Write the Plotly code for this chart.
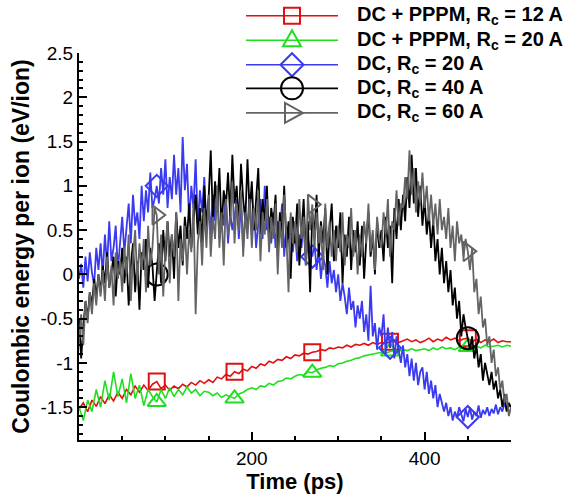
import numpy as np
import plotly.graph_objects as go

# ---------------- data ----------------
t_fine = np.arange(0, 500.01, 2.5)     # 201 samples for the noisy DC runs
t_coarse = np.arange(0, 500.01, 5.0)   # 101 samples for the DC+PPPM runs

pppm_rc12 = [
    -1.52, -1.45, -1.55, -1.42, -1.49, -1.38, -1.46, -1.36, -1.43, -1.33,
    -1.4, -1.3, -1.36, -1.26, -1.33, -1.25, -1.31, -1.24, -1.21, -1.29,
    -1.25, -1.31, -1.26, -1.29, -1.24, -1.27, -1.22, -1.25, -1.2, -1.23,
    -1.19, -1.22, -1.16, -1.18, -1.13, -1.15, -1.1, -1.12, -1.07, -1.09,
    -1.04, -1.06, -1.01, -1.03, -0.98, -1.0, -0.96, -0.97, -0.93, -0.95,
    -0.91, -0.92, -0.89, -0.9, -0.88, -0.87, -0.85, -0.86, -0.83, -0.84,
    -0.82, -0.83, -0.8, -0.82, -0.79, -0.8, -0.78, -0.8, -0.77, -0.79,
    -0.77, -0.78, -0.76, -0.74, -0.77, -0.75, -0.73, -0.76, -0.74, -0.77,
    -0.75, -0.72, -0.76, -0.73, -0.75, -0.71, -0.74, -0.72, -0.75, -0.73,
    -0.72, -0.76, -0.73, -0.77, -0.74, -0.76, -0.73, -0.77, -0.75, -0.76,
    -0.76,
]

pppm_rc20 = [
    -1.5, -1.65, -1.42, -1.55, -1.3, -1.5, -1.2, -1.42, -1.1, -1.38,
    -1.18, -1.45, -1.12, -1.4, -1.25, -1.48, -1.3, -1.38, -1.44, -1.3,
    -1.4, -1.28, -1.38, -1.3, -1.36, -1.27, -1.34, -1.3, -1.37, -1.32,
    -1.33, -1.37, -1.34, -1.39, -1.36, -1.38, -1.4, -1.35, -1.33, -1.3,
    -1.28, -1.3, -1.26, -1.27, -1.23, -1.25, -1.21, -1.2, -1.17, -1.18,
    -1.15, -1.13, -1.14, -1.1, -1.11, -1.08, -1.06, -1.05, -1.03, -1.04,
    -1.01, -1.0, -0.98, -0.97, -0.95, -0.94, -0.92, -0.91, -0.9, -0.89,
    -0.88, -0.89, -0.87, -0.86, -0.87, -0.85, -0.86, -0.84, -0.86, -0.85,
    -0.84, -0.86, -0.83, -0.85, -0.82, -0.84, -0.83, -0.85, -0.82, -0.84,
    -0.82, -0.84, -0.81, -0.83, -0.8, -0.82, -0.81, -0.8, -0.82, -0.8,
    -0.81,
]

dc_rc20 = [
    -0.05, 0.12, -0.15, 0.2, -0.08, 0.25, 0.02, -0.12, 0.3, 0.05,
    0.35, 0.0, 0.45, 0.1, 0.6, 0.15, 0.3, 0.55, 0.05, 0.4,
    0.65, 0.25, 0.5, 0.8, 0.35, 0.9, 0.55, 0.7, 0.4, 1.0,
    0.6, 0.95, 0.7, 1.15, 0.75, 0.85, 1.0, 0.8, 1.2, 0.9,
    1.3, 0.75, 1.1, 0.85, 1.35, 0.9, 1.2, 0.7, 1.55, 0.95,
    1.25, 0.6, 1.0, 0.75, 1.3, 0.55, 0.95, 0.7, 1.1, 0.5,
    0.85, 0.45, 0.9, 0.6, 1.0, 0.4, 0.75, 0.55, 0.9, 0.35,
    0.7, 0.5, 0.65, 0.85, 0.4, 0.8, 0.3, 0.7, 0.55, 0.9,
    0.45, 0.75, 0.3, 0.6, 0.85, 0.4, 1.0, 0.5, 0.65, 0.35,
    0.7, 0.3, 0.6, 0.45, 0.8, 0.2, 0.55, 0.4, 0.65, 0.25,
    0.5, 0.15, 0.45, 0.3, 0.6, 0.1, 0.4, 0.25, 0.2, 0.35,
    0.05, 0.3, -0.05, 0.2, 0.1, -0.15, 0.15, -0.1, 0.05, -0.2,
    0.0, -0.3, -0.1, -0.25, -0.45, -0.15, -0.4, -0.3, -0.6, -0.35,
    -0.5, -0.3, -0.65, -0.45, -0.75, -0.13, -0.7, -0.55, -0.85, -0.6,
    -0.7, -0.45, -0.9, -0.6, -0.83, -0.65, -0.95, -0.7, -0.85, -1.0,
    -0.8, -1.05, -0.9, -1.15, -0.95, -1.2, -1.0, -1.25, -1.1, -1.05,
    -1.3, -1.1, -1.35, -1.2, -1.4, -1.25, -1.5, -1.35, -1.45, -1.55,
    -1.45, -1.6, -1.5, -1.65, -1.55, -1.62, -1.5, -1.58, -1.66, -1.52,
    -1.61, -1.5, -1.64, -1.55, -1.6, -1.48, -1.62, -1.53, -1.58, -1.5,
    -1.6, -1.52, -1.57, -1.47, -1.58, -1.5, -1.55, -1.45, -1.53, -1.48,
    -1.5,
]

dc_rc40 = [
    -0.5, -0.95, -0.6, -0.3, -0.5, -0.2, -0.35, -0.05, -0.25, 0.0,
    -0.2, 0.1, -0.1, 0.25, -0.15, 0.05, 0.2, -0.25, 0.15, 0.0,
    0.3, -0.1, 0.2, -0.35, 0.1, 0.35, -0.2, 0.15, -0.4, 0.25,
    0.05, 0.4, -0.15, 0.3, 0.1, -0.3, 0.0, 0.35, -0.1, 0.5,
    0.15, 0.6, 0.2, 0.45, -0.05, 0.7, 0.3, 0.55, 0.1, 0.65,
    0.4, 0.8, 0.3, 0.65, 0.9, 0.45, 0.75, 0.35, 1.0, 0.55,
    0.85, 1.4, 0.6, 1.05, 0.7, 1.2, 0.5, 0.95, 0.75, 1.15,
    0.65, 1.35, 0.8, 1.0, 0.55, 1.25, 0.85, 0.6, 1.3, 0.7,
    1.05, 0.5, 0.9, 1.2, 0.45, 0.85, 0.6, 1.0, 0.35, 0.75,
    0.55, 0.9, 0.2, 0.7, 0.4, 1.0, 0.3, 0.6, -0.05, 0.65,
    0.35, 0.8, 0.1, 0.55, 0.85, 0.25, 0.6, -0.2, 0.7, 0.45,
    0.9, 0.2, 0.6, 0.35, 0.75, 0.0, 0.5, 0.8, 0.15, 0.55,
    0.3, 0.7, -0.1, 0.45, 0.2, 0.65, 0.05, 0.5, 0.25, 0.6,
    0.1, 0.55, -0.05, 0.4, 0.7, 0.2, 0.45, 0.0, 0.6, 0.3,
    0.5, 0.15, 0.65, 0.3, 0.55, -0.1, 0.75, 0.4, 0.85, 0.5,
    0.9, 0.6, 1.1, 0.75, 1.35, 0.8, 1.2, 0.65, 1.0, 0.55,
    0.85, 0.45, 0.7, 0.3, 0.6, 0.15, 0.4, 0.0, 0.3, -0.1,
    0.15, -0.2, 0.05, -0.35, -0.15, -0.5, -0.3, -0.7, -0.45, -0.6,
    -0.72, -0.85, -0.7, -0.95, -0.8, -1.05, -0.9, -1.2, -1.0, -1.15,
    -1.25, -1.1, -1.3, -1.2, -1.4, -1.3, -1.5, -1.35, -1.55, -1.45,
    -1.5,
]

dc_rc60 = [
    -0.75, -0.45, -0.8, -0.3, -0.55, -0.2, -0.45, -0.1, -0.35, 0.0,
    -0.25, 0.05, -0.3, 0.2, -0.15, 0.1, -0.35, 0.25, -0.05, 0.15,
    -0.2, 0.3, 0.0, 0.45, -0.3, 0.2, 0.5, -0.1, 0.35, 0.05,
    0.4, -0.2, 0.55, 0.1, 0.3, 0.75, 0.67, 0.0, 0.45, -0.25,
    0.3, 0.6, -0.1, 0.45, 0.2, 0.7, -0.3, 0.4, 0.15, 0.55,
    0.0, 0.5, 0.25, 0.8, -0.45, 0.35, 0.6, 0.1, 0.75, 0.3,
    0.9, 0.2, 0.65, 0.4, 1.0, 0.3, 0.7, 0.1, 0.85, 0.45,
    0.6, 1.05, 0.35, 0.8, 0.5, 0.95, 0.2, 0.7, 0.4, 0.85,
    0.3, 0.75, 0.5, 0.95, 0.15, 0.7, 0.45, 0.85, 0.25, 0.65,
    0.4, 0.8, 0.0, 0.6, 0.3, 0.9, 0.45, -0.2, 0.7, 0.35,
    0.6, 0.25, 0.85, 0.4, 0.65, 0.1, 0.9, 0.5, 0.79, 0.3,
    0.7, 0.35, 0.55, 0.05, 0.8, 0.3, 0.6, 0.2, 0.5, 0.15,
    0.55, 0.25, 0.7, 0.1, 0.45, 0.3, 0.75, 0.2, 0.5, 0.0,
    0.45, 0.2, 0.6, 0.35, 0.8, 0.25, 0.5, 0.05, 0.65, 0.4,
    0.3, 0.7, 0.45, 0.85, 0.2, 0.6, 0.5, 0.95, 0.55, 0.8,
    0.75, 1.1, 0.85, 1.4, 0.9, 1.2, 0.7, 1.05, 0.8, 1.15,
    0.75, 1.0, 0.6, 0.9, 0.55, 0.8, 0.45, 0.85, 0.5, 0.65,
    0.4, 0.75, 0.3, 0.55, 0.15, 0.6, 0.35, 0.45, 0.2, 0.4,
    0.26, 0.05, 0.3, -0.2, -0.05, -0.45, -0.25, -0.6, -0.5, -0.8,
    -0.7, -1.0, -0.85, -1.15, -1.05, -1.3, -1.2, -1.45, -1.35, -1.6,
    -1.5,
]

# times at which each curve shows a visible symbol in the reference
marker_times = [
    [90, 180, 270, 360, 450],
    [90, 180, 270, 360, 450],
    [90, 270, 360, 450],
    [90, 450],
    [90, 270, 450],
]

series_names = [
    "DC + PPPM, R<sub>c</sub> = 12 A",
    "DC + PPPM, R<sub>c</sub> = 20 A",
    "DC, R<sub>c</sub> = 20 A",
    "DC, R<sub>c</sub> = 40 A",
    "DC, R<sub>c</sub> = 60 A",
]
series_x = [t_coarse, t_coarse, t_fine, t_fine, t_fine]
series_y = [pppm_rc12, pppm_rc20, dc_rc20, dc_rc40, dc_rc60]
colors = ["#e01010", "#1ee01e", "#3a3af0", "#000000", "#646464"]
symbols = ["square-open", "triangle-up-open", "diamond-open", "circle-open", "triangle-right-open"]
msizes = [16, 16, 17, 22, 17]
widths = [1.6, 1.6, 1.8, 1.8, 1.8]

y_ticks = [-1.5, -1, -0.5, 0, 0.5, 1, 1.5, 2, 2.5]
y_ticktext = ["-1.5", "-1", "-0.5", "0", "0.5", "1", "1.5", "2", "2.5"]
x_ticks = [200, 400]

FONT = "Liberation Sans, Arial, Helvetica, sans-serif"

# ---------------- figure ----------------
fig = go.Figure()
for name, xs, ys, c, sym, ms, lw, mt in zip(series_names, series_x, series_y, colors,
                                             symbols, msizes, widths, marker_times):
    xs = np.asarray(xs)
    ys = np.asarray(ys)
    fig.add_trace(go.Scatter(x=xs, y=ys, mode="lines", line=dict(color=c, width=lw),
                             name=name, showlegend=False, hoverinfo="skip"))
    idx = [int(np.argmin(np.abs(xs - m))) for m in mt]
    fig.add_trace(go.Scatter(x=xs[idx], y=ys[idx], mode="markers",
                             marker=dict(symbol=sym, size=ms, color=c, line=dict(width=2, color=c)),
                             showlegend=False, hoverinfo="skip"))

# geometry of the plotting area (pixels)
L, R, T, B = 79, 511, 53, 447
W, H = 576, 498

# custom legend (pixel positions converted to paper coords)
leg_y = [15, 40, 65, 89, 114]
line_x0, line_x1, mark_x, text_x = 246, 338, 292, 355

def px_to_paper_x(px):
    return (px - L) / (R - L)

def px_to_paper_y(py):
    return (B - py) / (B - T)

legend_glyphs = [
    dict(type="rect", x0=-8, x1=8, y0=-8, y1=8),
    dict(type="path", path="M-9,-6 L9,-6 L0,10 Z"),
    dict(type="path", path="M0,11.5 L11.5,0 L0,-11.5 L-11.5,0 Z"),
    dict(type="circle", x0=-11, x1=11, y0=-11, y1=11),
    dict(type="path", path="M-7,-10 L-7,10 L11,0 Z"),
]

shapes = []
annotations = []
for yy, c, name, g in zip(leg_y, colors, series_names, legend_glyphs):
    shapes.append(dict(type="line", xref="paper", yref="paper",
                       x0=px_to_paper_x(line_x0), x1=px_to_paper_x(line_x1),
                       y0=px_to_paper_y(yy), y1=px_to_paper_y(yy),
                       line=dict(color=c, width=1.6)))
    glyph = dict(g)
    glyph.update(xref="paper", yref="paper", xsizemode="pixel", ysizemode="pixel",
                 xanchor=px_to_paper_x(mark_x), yanchor=px_to_paper_y(yy),
                 line=dict(color=c, width=2), fillcolor="rgba(0,0,0,0)")
    shapes.append(glyph)
    annotations.append(dict(xref="paper", yref="paper", x=px_to_paper_x(text_x), y=px_to_paper_y(yy),
                            xanchor="left", yanchor="middle", showarrow=False, text="<b>" + name + "</b>",
                            font=dict(family=FONT, size=20, color="black")))

fig.update_layout(
    width=W, height=H,
    margin=dict(l=L, r=W - R, t=T, b=H - B, pad=0),
    paper_bgcolor="white", plot_bgcolor="white",
    showlegend=False,
    font=dict(family=FONT, color="black"),
    xaxis=dict(range=[0, 500], tickvals=x_ticks, ticktext=[str(v) for v in x_ticks],
               ticks="inside", ticklen=8, tickwidth=2, tickcolor="black",
               showline=True, linewidth=2, linecolor="black", mirror=False,
               showgrid=False, zeroline=False,
               tickfont=dict(size=19, family=FONT),
               minor=dict(tickvals=[50, 100, 150, 250, 300, 350, 450], ticks="inside", ticklen=4,
                          tickwidth=1.5, tickcolor="black", showgrid=False),
               title=dict(text="<b>Time (ps)</b>", font=dict(size=22, family=FONT), standoff=2)),
    yaxis=dict(range=[-1.87, 2.5], tickvals=y_ticks, ticktext=y_ticktext,
               ticks="inside", ticklen=8, tickwidth=2, tickcolor="black",
               showline=True, linewidth=2, linecolor="black", mirror=False,
               showgrid=False, zeroline=False,
               tickfont=dict(size=19, family=FONT),
               minor=dict(dtick=0.1, tick0=0, ticks="inside", ticklen=4,
                          tickwidth=1.5, tickcolor="black", showgrid=False),
               title=dict(text="<b>Coulombic energy per ion (eV/ion)</b>",
                          font=dict(size=23, family=FONT), standoff=4)),
    shapes=shapes,
    annotations=annotations,
)

fig.write_html("out.html")
